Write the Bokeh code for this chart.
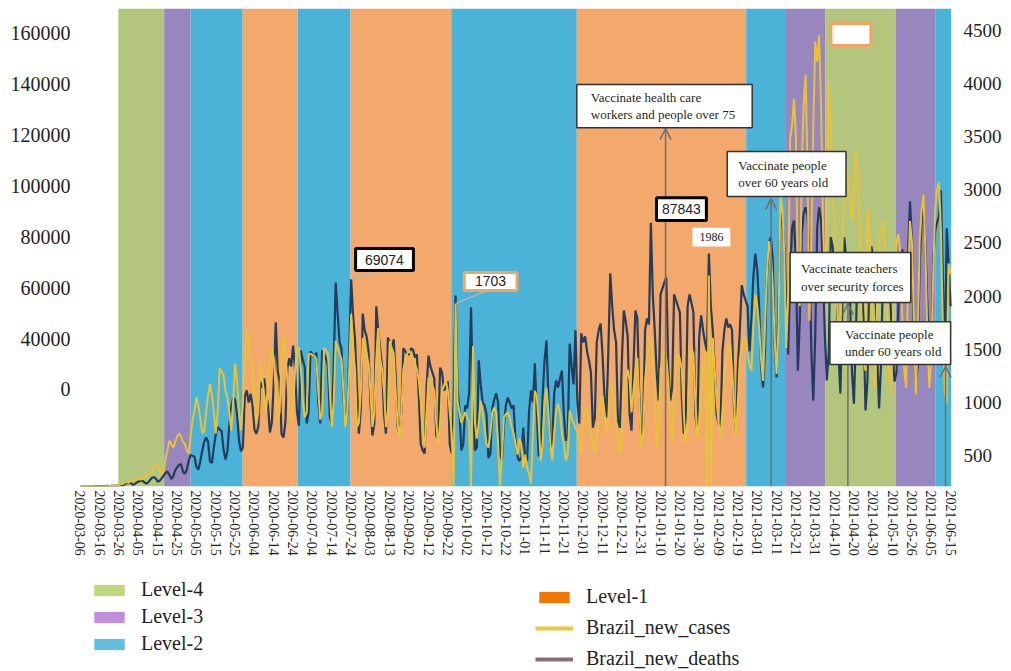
from bokeh.plotting import figure
from bokeh.models import (Range1d, LinearAxis, FixedTicker, ColumnDataSource, Label,
                          BoxAnnotation, Arrow, OpenHead, Legend, LegendItem)
from bokeh.layouts import column
from bokeh.embed import file_html
from bokeh.resources import INLINE

# ---------------- data ----------------
tick_dates = ["2020-03-06", "2020-03-16", "2020-03-26", "2020-04-05", "2020-04-15", "2020-04-25",
              "2020-05-05", "2020-05-15", "2020-05-25", "2020-06-04", "2020-06-14", "2020-06-24",
              "2020-07-04", "2020-07-14", "2020-07-24", "2020-08-03", "2020-08-13", "2020-09-02",
              "2020-09-12", "2020-09-22", "2020-10-02", "2020-10-12", "2020-10-22", "2020-11-01",
              "2020-11-11", "2020-11-21", "2020-12-01", "2020-12-11", "2020-12-21", "2020-12-31",
              "2021-01-10", "2021-01-20", "2021-01-30", "2021-02-09", "2021-02-19", "2021-03-01",
              "2021-03-11", "2021-03-21", "2021-03-31", "2021-04-10", "2021-04-20", "2021-04-30",
              "2021-05-10", "2021-05-26", "2021-06-05", "2021-06-15"]

# daily new cases, thousands (one value per row of the table)
cases_k = [
    0.0, 0.0, 0.0, 0.0, 0.0, 0.0, 0.0, 0.0, 0.1, 0.0,
    0.1, 0.0, 0.1, 0.1, 0.2, 0.1, 0.2, 0.3, 0.3, 0.2,
    0.4, 0.5, 0.4, 0.9, 1.1, 1.2, 1.1, 0.6, 0.8, 1.3,
    1.6, 1.9, 2.0, 1.4, 1.0, 1.3, 2.2, 2.9, 3.1, 2.6,
    1.6, 1.9, 2.7, 3.6, 4.5, 5.0, 3.9, 2.5, 3.4, 5.4,
    6.4, 7.2, 7.5, 5.0, 4.2, 5.6, 8.6, 10.5, 10.2, 9.9,
    6.6, 5.6, 8.4, 12.0, 14.9, 16.3, 15.0, 8.3, 7.9, 13.1,
    17.4, 19.7, 19.0, 18.5, 12.4, 9.0, 11.6, 20.6, 26.4, 29.6,
    28.8, 24.0, 15.4, 11.7, 13.0, 30.0, 32.0, 28.0, 30.8, 27.1,
    18.9, 17.6, 20.0, 34.9, 32.9, 36.0, 30.9, 27.0, 18.0, 21.4,
    34.9, 54.7, 38.7, 34.7, 17.5, 16.3, 21.4, 39.4, 42.7, 40.0,
    46.9, 38.7, 24.8, 20.2, 45.3, 42.2, 39.7, 21.0, 24.6, 45.0,
    44.0, 43.2, 44.6, 28.0, 21.0, 45.3, 44.1, 42.6, 40.0, 23.0,
    21.0, 41.0, 67.9, 58.0, 48.0, 46.0, 30.0, 22.0, 24.0, 45.0,
    69.1, 57.0, 49.0, 33.0, 17.6, 26.0, 57.6, 52.0, 50.0, 45.0,
    28.0, 17.0, 21.0, 60.0, 52.0, 46.0, 40.0, 24.0, 17.6, 49.6,
    48.0, 46.0, 49.0, 37.0, 20.0, 17.6, 25.0, 46.0, 45.0, 44.0,
    44.0, 46.0, 45.5, 43.0, 44.0, 30.0, 14.0, 12.0, 11.0, 33.0,
    43.6, 40.0, 38.0, 36.0, 17.0, 16.0, 39.6, 38.0, 32.0, 33.0,
    35.0, 14.0, 11.0, 28.0, 63.6, 33.0, 25.0, 12.0, 14.0, 27.0,
    26.0, 31.0, 59.7, 30.0, 12.0, 13.0, 42.0, 34.0, 28.0, 27.0,
    24.0, 9.5, 11.0, 26.0, 29.0, 31.0, 28.0, 10.0, 9.0, 20.0,
    27.0, 29.6, 28.0, 26.0, 27.0, 15.0, 10.0, 8.5, 9.5, 19.6,
    9.0, 8.7, 25.0, 32.0, 28.0, 41.0, 25.0, 10.0, 12.0, 30.0,
    42.0, 48.6, 30.0, 13.0, 15.0, 31.0, 35.3, 33.0, 36.0, 38.6,
    24.0, 15.3, 17.0, 47.6, 40.0, 34.0, 52.0, 28.0, 21.0, 51.0,
    48.0, 50.0, 45.0, 42.0, 38.0, 19.6, 23.0, 48.0, 52.0, 54.3,
    44.0, 30.0, 23.0, 45.0, 71.0, 60.0, 52.0, 48.0, 22.0, 19.6,
    42.0, 58.6, 55.0, 50.0, 24.0, 18.6, 40.0, 58.6, 56.0, 30.0,
    16.3, 20.0, 52.0, 56.0, 54.0, 87.8, 64.0, 52.0, 38.0, 28.6,
    64.0, 66.0, 68.0, 69.6, 40.0, 28.6, 33.0, 64.0, 62.0, 60.0,
    58.0, 30.0, 17.6, 22.0, 60.0, 64.0, 61.0, 58.0, 24.0, 18.6,
    50.0, 57.0, 52.0, 48.0, 45.0, 77.6, 60.0, 52.0, 40.0, 24.0,
    21.0, 19.6, 45.0, 52.0, 56.0, 53.0, 54.0, 52.0, 26.0, 18.6,
    40.0, 52.0, 67.0, 64.0, 62.0, 60.0, 45.0, 56.0, 70.0, 77.6,
    72.0, 60.0, 40.0, 33.0, 45.0, 70.0, 81.0, 83.0, 76.0, 48.0,
    36.3, 60.0, 91.0, 88.0, 80.0, 62.0, 44.0, 70.0, 86.0, 88.6,
    75.0, 38.6, 55.0, 84.0, 91.0, 93.0, 90.0, 78.0, 45.0, 28.6,
    50.0, 86.0, 93.0, 89.0, 72.0, 50.0, 35.3, 45.0, 83.0, 80.0,
    73.0, 68.0, 45.0, 31.0, 60.0, 83.0, 76.0, 70.0, 62.0, 38.0,
    27.6, 50.0, 77.6, 74.0, 68.0, 55.0, 25.3, 35.0, 72.0, 80.0,
    76.0, 68.0, 45.0, 26.0, 40.0, 70.0, 77.6, 75.0, 70.0, 60.0,
    45.0, 35.0, 38.0, 60.0, 72.0, 79.0, 75.0, 70.0, 78.0, 95.0,
    82.0, 50.0, 35.0, 40.0, 74.0, 88.0, 93.0, 80.0, 60.0, 38.6,
    45.0, 75.0, 85.0, 88.0, 90.0, 98.6, 70.0, 40.0, 86.0, 74.0, 60.0,
]

# daily new deaths
deaths = [
    0, 0, 0, 0, 0, 0, 0, 0, 0, 0,
    0, 1, 0, 2, 3, 4, 7, 9, 12, 11,
    15, 22, 23, 42, 39, 36, 53, 54, 61, 73,
    78, 65, 72, 99, 105, 114, 122, 141, 190, 216,
    197, 160, 122, 140, 260, 340, 432, 400, 366, 420,
    470, 500, 470, 420, 400, 340, 310, 480, 620, 720,
    836, 760, 640, 500, 520, 700, 860, 967, 860, 700,
    500, 700, 1117, 1080, 1050, 900, 836, 700, 526, 800,
    1155, 1000, 700, 526, 800, 1200, 1484, 1350, 1200, 1117,
    800, 590, 700, 1180, 1050, 836, 700, 1000, 1200, 1305,
    1200, 900, 620, 700, 1200, 1400, 1250, 1000, 700, 620,
    750, 1100, 1300, 1305, 1100, 800, 650, 700, 1240, 1250,
    1240, 1230, 1200, 900, 630, 700, 1305, 1280, 1260, 900,
    560, 800, 1371, 1300, 1250, 1200, 900, 560, 700, 1100,
    1625, 1300, 1100, 560, 600, 900, 1400, 1300, 1250, 1150,
    900, 560, 700, 1200, 1493, 1200, 1100, 900, 560, 700,
    1370, 1300, 1250, 900, 600, 467, 700, 1100, 1200, 1250,
    1280, 1250, 1200, 1150, 1100, 1000, 800, 500, 366, 700,
    1024, 980, 950, 900, 600, 400, 600, 900, 950, 995,
    900, 700, 500, 0, 1718, 800, 700, 600, 650, 700,
    650, 600, 0, 1324, 600, 450, 600, 807, 700, 550,
    400, 366, 500, 700, 742, 700, 400, 0, 300, 650,
    680, 700, 650, 560, 500, 400, 300, 450, 400, 178,
    300, 178, 120, 28, 500, 900, 850, 600, 244, 400,
    800, 930, 700, 400, 244, 500, 700, 780, 700, 500,
    400, 244, 300, 714, 650, 600, 550, 526, 400, 310,
    600, 740, 700, 650, 500, 400, 310, 400, 700, 800,
    850, 700, 500, 600, 995, 900, 760, 600, 400, 310,
    500, 900, 1000, 1100, 1000, 700, 900, 1100, 1211, 800,
    370, 500, 1000, 1200, 1300, 1400, 1200, 900, 370, 500,
    1100, 1200, 1277, 1200, 1000, 600, 400, 800, 1150, 1250,
    1200, 1100, 700, 400, 600, 1100, 1300, 1250, 800, 460,
    600, 900, 1100, 1277, 0, 1986, 0, 1400, 1100, 800,
    600, 460, 700, 1000, 1200, 1300, 1340, 1100, 800, 460,
    800, 1200, 1300, 1400, 1400, 1250, 1150, 1090, 1500, 1810,
    1700, 1500, 1200, 995, 1500, 2000, 2310, 2200, 1900, 1400,
    1060, 1500, 2750, 2600, 2200, 1305, 1800, 3277, 3400, 3650,
    3300, 2000, 1700, 3000, 3600, 3880, 3000, 1560, 2300, 3400,
    4190, 4000, 4250, 3600, 2500, 1870, 2600, 3810, 3400, 2800,
    2500, 1800, 1500, 1400, 2200, 2900, 3000, 2900, 2700, 2500,
    2800, 3155, 3000, 2400, 1500, 1200, 1090, 2620, 2400, 2000,
    1500, 930, 1800, 2300, 2400, 2500, 2300, 1700, 1100, 870,
    1400, 2000, 2300, 2375, 2200, 1600, 1100, 930, 1900, 2500,
    2300, 1600, 870, 1400, 2300, 2600, 2750, 2200, 1400, 930,
    1200, 2000, 2600, 2800, 2870, 2400, 1500, 900, 780, 2100, 2000,
]

# restriction level periods (row positions)
band_levels = ["Level-4", "Level-3", "Level-2", "Level-1", "Level-2", "Level-1", "Level-2",
               "Level-1", "Level-2", "Level-3", "Level-4", "Level-3", "Level-2"]
band_start = [19.6, 43.3, 57.0, 83.9, 112.4, 139.7, 191.8, 256.7, 344.3, 364.4, 385.1, 421.6, 442.3]
band_end = [43.3, 57.0, 83.9, 112.4, 139.7, 191.8, 256.7, 344.3, 364.4, 385.1, 421.6, 442.3, 450.3]

left_tick_values = [20000, 40000, 60000, 80000, 100000, 120000, 140000, 160000]
left_tick_labels = ["0", "40000", "60000", "80000", "100000", "120000", "140000", "160000"]
right_tick_values = [500, 1000, 1500, 2000, 2500, 3000, 3500, 4000, 4500]

# ---------------- styles ----------------
SERIF = "Liberation Serif"
SANS = "Liberation Sans"
TXT = "#231f20"
band_colors = {"Level-4": "#b4c67d", "Level-3": "#9886be", "Level-2": "#4cb3d8", "Level-1": "#f3a86c"}
legend_colors = {"Level-4": "#bed67c", "Level-3": "#bf8fdc", "Level-2": "#66bde3", "Level-1": "#f07800"}
CASES_COLOR = "#1d3658"
DEATHS_COLOR = "#e8c23a"
ORANGE_BORDER = "#f2a462"

rows = list(range(len(cases_k)))

p = figure(width=1004, height=568, x_range=Range1d(-1, 451.5), y_range=Range1d(0, 159.2),
           y_axis_location=None, output_backend="svg", toolbar_location=None,
           min_border_left=78, min_border_right=48, min_border_top=8, min_border_bottom=82)
p.extra_y_ranges = {"lbl": Range1d(-18146, 169831), "rlbl": Range1d(208, 4707),
                    "deaths": Range1d(0, 4501)}
p.grid.visible = False
p.outline_line_color = None
p.background_fill_color = "white"

band_src = ColumnDataSource(dict(left=band_start, right=band_end,
                                 color=[band_colors[l] for l in band_levels]))
p.quad(left="left", right="right", bottom=0, top=159.2, fill_color="color",
       line_color=None, source=band_src)

p.line(rows, cases_k, line_color=CASES_COLOR, line_width=2.2, line_alpha=0.95)
p.line(rows, deaths, line_color=DEATHS_COLOR, line_width=2, y_range_name="deaths")

# axes
la = LinearAxis(y_range_name="lbl", ticker=FixedTicker(ticks=left_tick_values),
                major_label_overrides={v: l for v, l in zip(left_tick_values, left_tick_labels)})
ra = LinearAxis(y_range_name="rlbl", ticker=FixedTicker(ticks=right_tick_values))
for ax, size, stand in ((la, "20px", 8), (ra, "19px", 10)):
    ax.axis_line_color = None
    ax.major_tick_line_color = None
    ax.minor_tick_line_color = None
    ax.major_tick_out = 0
    ax.major_tick_in = 0
    ax.minor_tick_out = 0
    ax.major_label_text_font = SERIF
    ax.major_label_text_font_size = size
    ax.major_label_text_color = TXT
    ax.major_label_standoff = stand
p.add_layout(la, "left")
p.add_layout(ra, "right")

xa = p.xaxis[0]
xa.ticker = FixedTicker(ticks=[10 * i for i in range(len(tick_dates))])
xa.major_label_overrides = {10 * i: d for i, d in enumerate(tick_dates)}
xa.major_label_orientation = "vertical"
xa.major_label_text_font = SERIF
xa.major_label_text_font_size = "14px"
xa.major_label_text_color = TXT
xa.major_label_standoff = 4
xa.axis_line_color = None
xa.major_tick_line_color = None
xa.minor_tick_line_color = None
xa.major_tick_out = 0
xa.major_tick_in = 0
xa.minor_tick_out = 0

# ---------------- annotations ----------------
GREY = "#6f6f6f"
arrows = [(302.6, 119.2), (357.2, 95.9), (396.9, 60.9), (447.4, 40.0)]
for ax_, ay in arrows:
    p.add_layout(Arrow(end=OpenHead(size=11, line_color=GREY, line_width=1.5),
                       x_start=ax_, y_start=0, x_end=ax_, y_end=ay,
                       line_color=GREY, line_width=1.5))

leaders = [((140, 69.1), (154.6, 71.9)), ((194, 60.9), (208.8, 64.9))]
for (x0, y0), (x1, y1) in leaders:
    p.add_layout(Arrow(end=None, x_start=x0, y_start=y0, x_end=x1, y_end=y1,
                       line_color="#b5b5b5", line_width=1.5))

boxes = [
    # left, right, top, bottom, border colour, border width
    (142.3, 172.2, 79.3, 71.9, "black", 3),
    (198.5, 225.8, 71.3, 65.3, ORANGE_BORDER, 3),
    (297.9, 323.7, 96.2, 88.6, "black", 3),
    (316.5, 336.1, 86.2, 79.9, None, 0),
    (256.7, 347.4, 133.9, 119.5, "#333333", 1.5),
    (334.5, 395.9, 111.6, 96.6, "#333333", 1.5),
    (367.0, 429.4, 77.9, 61.3, "#333333", 1.5),
    (387.6, 450.0, 54.9, 40.6, "#333333", 1.5),
    (388.1, 408.8, 154.2, 146.9, ORANGE_BORDER, 3),
]
for l, r, t, b, lc, lw in boxes:
    p.add_layout(BoxAnnotation(left=l, right=r, top=t, bottom=b, fill_color="white", fill_alpha=1,
                               line_color=lc, line_alpha=1 if lc else 0, line_width=lw))

num_labels = [("69074", 157.2, 75.6, SANS, "14px"), ("1703", 212.1, 68.3, SANS, "14px"),
              ("87843", 310.8, 92.4, SANS, "14px"), ("1986", 326.3, 83.1, SERIF, "12px")]
for t, x, y, f, s in num_labels:
    p.add_layout(Label(x=x, y=y, text=t, text_font=f, text_font_size=s, text_color="#222222",
                       text_align="center", text_baseline="middle"))

notes = [("Vaccinate health care\nworkers and people over 75", 263.9, 126.7),
         ("Vaccinate people\nover 60 years old", 340.2, 104.1),
         ("Vaccinate teachers\nover security forces", 372.7, 69.6),
         ("Vaccinate people\nunder 60 years old", 395.4, 47.8)]
for t, x, y in notes:
    p.add_layout(Label(x=x, y=y, text=t, text_font=SERIF, text_font_size="13px", text_color=TXT,
                       text_align="left", text_baseline="middle", text_line_height=1.15))

# ---------------- legend panel ----------------
leg = figure(width=1004, height=103, x_range=Range1d(0, 1), y_range=Range1d(0, 1),
             output_backend="svg", toolbar_location=None, min_border=0,
             x_axis_location=None, y_axis_location=None)
leg.grid.visible = False
leg.outline_line_color = None

rl = {}
for name in ["Level-4", "Level-3", "Level-2", "Level-1"]:
    rl[name] = leg.quad(left=[2], right=[3], bottom=[2], top=[3], fill_color=legend_colors[name],
                        line_color=None)
r_cases = leg.line(x=[2, 3], y=[2, 2], line_color="#e8c843", line_width=4)
r_deaths = leg.line(x=[2, 3], y=[2, 2], line_color="#857078", line_width=4)


def make_legend(items, loc, spacing):
    return Legend(items=items, location=loc, glyph_width=38, glyph_height=14,
                  label_text_font=SERIF, label_text_font_size="20px", label_text_color=TXT,
                  label_standoff=13, label_height=20, spacing=spacing, padding=0, margin=0,
                  border_line_color=None, background_fill_alpha=0)


legL = make_legend([LegendItem(label=n, renderers=[rl[n]]) for n in ["Level-4", "Level-3", "Level-2"]],
                   (12, 16), 4)
legR = make_legend([LegendItem(label="Level-1", renderers=[rl["Level-1"]]),
                    LegendItem(label="Brazil_new_cases", renderers=[r_cases]),
                    LegendItem(label="Brazil_new_deaths", renderers=[r_deaths])],
                   (457, 1), 8)
leg.add_layout(legL)
leg.add_layout(legR)

layout = column(p, leg, spacing=0)
open("out.html", "w").write(file_html(layout, INLINE))
